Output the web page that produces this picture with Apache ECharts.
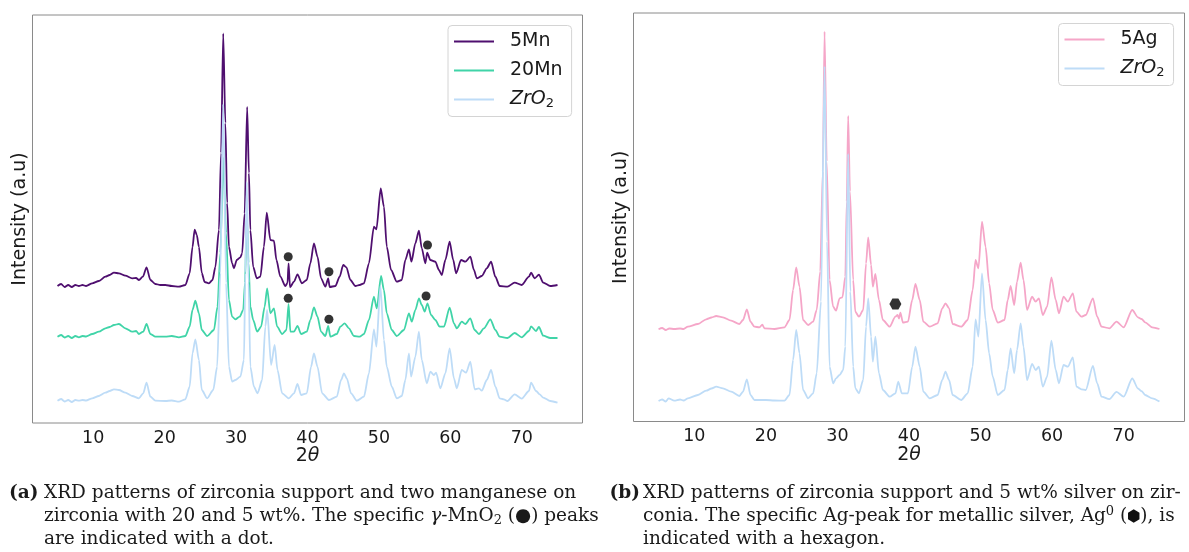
<!DOCTYPE html>
<html><head><meta charset="utf-8">
<script src="https://cdn.jsdelivr.net/npm/echarts@6/dist/echarts.min.js"></script>
<style>html,body{margin:0;padding:0;background:#fff}#c{width:1189px;height:552px}</style>
</head><body><div id="c"></div>
<script>
// ---------- data (2θ in degrees, intensity in arbitrary units) ----------
const xTicks = [10, 20, 30, 40, 50, 60, 70];

const mn5 = [[5.0,137],[5.5,139],[6.0,136],[6.5,138],[7.0,136],[7.5,138],[8.0,137],[8.5,138],[9.0,137],[9.86,139.7],[10.8,142],[11.7,146.3],[12.3,148],[12.9,150.3],[13.6,149.7],[14.5,147.3],[15.46,144.7],[16.0,145],[16.4,143],[16.95,146.3],[17.47,155.7],[18.0,143],[18.7,139],[19.4,138],[20.1,138],[21.0,137],[22.0,136.3],[22.9,138],[23.5,149.7],[23.9,176],[24.2,193.4],[24.5,188],[24.8,176],[25.2,150],[25.6,141],[26.2,139.7],[26.7,143],[27.1,156],[27.6,193],[27.9,270],[28.2,389.5],[28.5,300],[28.75,220],[29.0,176.3],[29.45,159.7],[29.7,154.7],[30.1,163],[30.6,165.7],[30.85,169.7],[31.2,209.7],[31.55,316],[31.8,250],[32.0,193],[32.4,156],[32.9,144.7],[33.4,146.3],[33.9,176.3],[34.3,210.3],[34.8,183],[35.3,182.3],[35.65,163],[36.2,146.3],[36.9,137],[37.2,140],[37.35,159.7],[37.55,135.7],[38.1,141.3],[38.6,148.7],[39.2,139.7],[39.9,143],[40.4,159.7],[40.9,179.7],[41.4,166.3],[41.9,144.7],[42.5,136.3],[42.9,144.7],[43.1,136],[43.9,137],[44.5,146.3],[45.0,158],[45.45,155.7],[46.0,143],[46.7,137],[47.3,138],[47.9,139.7],[48.6,159.7],[49.3,196.3],[49.65,193.7],[50.25,234.5],[50.7,216.3],[51.1,176.3],[51.7,153],[52.5,141.3],[53.2,143],[53.7,163],[54.2,173.7],[54.55,161.3],[55.1,179.7],[55.6,192.3],[56.0,174.7],[56.5,159.7],[56.75,170.3],[57.2,163],[57.9,161.3],[58.4,153],[58.8,148],[59.3,163],[59.9,181.3],[60.4,163],[60.8,149.7],[61.5,163],[62.1,161.3],[62.8,166.3],[63.3,153],[63.7,144.7],[64.4,147],[65.1,154.7],[65.7,161.3],[66.3,146.3],[66.9,137],[68.0,136.4],[69.0,140.4],[70.0,138],[71.0,146.3],[71.3,150.3],[71.8,144.7],[72.4,148.3],[73.0,140.4],[74.0,137],[75.0,138]];

const mn20 = [[5.0,86.3],[5.5,88],[6.0,85.5],[6.5,87],[7.0,85],[7.5,87],[8.0,85.7],[8.5,87],[9.0,86.5],[9.86,89],[10.8,91.3],[11.7,94.7],[12.3,96],[12.9,98],[13.6,99],[14.5,94.7],[15.46,91.3],[16.0,92],[16.4,89],[17.0,91.3],[17.47,99],[18.0,89],[18.7,86.3],[20.1,86.3],[21.0,87],[22.0,85.7],[22.9,87],[23.5,96.3],[23.9,113],[24.3,122.3],[24.8,109.7],[25.2,93],[25.95,87],[26.9,93],[27.4,116.3],[27.8,170],[28.2,265.6],[28.6,190],[29.0,123],[29.45,106.3],[29.9,103.7],[30.5,106.3],[31.0,113],[31.25,140],[31.5,209],[31.75,160],[32.0,116.3],[32.4,103],[32.95,91.3],[33.5,96.3],[34.0,116.3],[34.35,134.7],[34.8,109.7],[35.3,114.7],[35.75,96.3],[36.45,89],[37.05,93],[37.35,119],[37.6,91.3],[38.1,91.3],[38.6,97],[39.1,89],[39.9,91.3],[40.4,103],[40.9,115.7],[41.4,106.3],[41.9,91.3],[42.5,87],[42.9,97],[43.2,86.3],[44.1,89],[44.6,96.3],[45.2,99.7],[45.8,94.7],[46.5,87],[47.3,86.3],[47.9,89],[48.6,103],[49.3,126.3],[49.7,114.7],[50.3,147],[50.7,133],[51.1,109.7],[51.8,93],[52.5,87],[53.5,93],[54.2,109.7],[54.6,101.3],[55.1,113],[55.6,124.7],[56.0,118],[56.4,111.3],[56.8,119.7],[57.3,108],[57.9,103],[58.5,96.3],[59.1,96.3],[59.9,115.3],[60.5,99.7],[60.9,94.7],[61.6,101.3],[62.1,99],[62.8,104.7],[63.4,93],[64.0,89],[64.7,94.7],[65.6,103.7],[66.3,93],[66.9,86.3],[68.0,85],[69.0,90],[70.0,85.7],[71.0,92],[71.3,96.6],[72.0,92],[72.4,96],[73.0,87.3],[74.0,85],[75.0,85]];

const zro2A = [[5.0,22.3],[5.5,24],[6.0,21.5],[6.5,23],[7.0,21],[7.5,23],[8.0,22.3],[8.5,23],[9.0,22.5],[9.86,24.7],[10.8,27],[11.7,30.3],[12.3,32],[12.9,33.7],[13.6,33],[14.5,30.3],[15.46,27],[16.4,24.7],[17.0,29.7],[17.47,40.3],[18.0,26.3],[18.7,22.3],[20.1,22],[21.0,22.5],[22.0,21.3],[22.9,23.7],[23.5,36.3],[23.9,69.7],[24.3,83.7],[24.8,63],[25.2,33],[25.95,24.7],[26.8,33],[27.35,56.3],[27.8,150],[28.2,319],[28.6,140],[29.0,56.3],[29.45,41.3],[29.9,43],[30.6,46.3],[31.1,63],[31.3,150],[31.5,241],[31.75,140],[32.0,56.3],[32.5,36.3],[33.0,29.7],[33.65,43],[34.1,96.3],[34.35,113],[34.9,58],[35.4,78],[35.8,53],[36.45,29.7],[37.4,24.7],[38.1,29.7],[38.6,39],[39.1,28],[39.9,29.7],[40.5,56.3],[40.9,69.7],[41.4,56.3],[42.05,29.7],[43.0,23],[44.1,26.3],[44.7,43],[45.1,49.7],[45.5,44.7],[46.1,29.7],[46.9,22.3],[47.9,26.3],[48.6,49.7],[49.3,93.7],[49.65,76.3],[50.2,137],[50.7,83],[51.1,56.3],[51.8,36.3],[52.5,24.7],[53.2,27],[53.7,43],[54.2,69.7],[54.5,46.3],[55.1,66.3],[55.6,91.3],[56.0,63],[56.7,39.7],[57.2,51.3],[57.7,48],[58.0,50.3],[58.6,34.7],[59.3,49.7],[59.9,74.7],[60.5,44.7],[60.9,34.7],[61.6,53],[62.2,50.3],[62.8,61.3],[63.4,33.7],[64.0,34.7],[64.4,32.3],[65.1,43],[65.7,53],[66.3,36.3],[66.9,24.7],[67.5,23.7],[68.0,22],[69.0,28.7],[70.0,24.4],[71.0,32],[71.3,40.3],[72.0,32],[72.5,28.7],[73.0,25.4],[74.0,22],[75.0,20.4]];

const mnDots = [[37.3,166.3],[43.0,151.3],[56.8,178],[37.3,124.7],[43.0,103.7],[56.6,127]];

const ag5 = [[5.0,92.2],[5.5,93.5],[6.0,91.5],[6.5,93],[7.2,92.5],[8.0,93],[8.5,92.5],[9.1,94.8],[10.5,97.5],[11.66,102.2],[12.4,104],[13.05,105.5],[14.0,104.2],[15.15,100.8],[16.3,97.5],[16.8,101.5],[17.34,112.2],[17.85,99.8],[18.4,94.8],[19.1,94.2],[19.5,96.8],[19.8,93.2],[21.2,92.5],[22.6,94.2],[23.3,101.5],[23.8,131.5],[24.24,154.2],[24.7,134.8],[25.2,101.5],[25.9,96.5],[26.6,99.8],[27.1,111.5],[27.6,150],[27.95,250],[28.2,389.9],[28.5,260],[28.9,141.5],[29.4,114.8],[29.8,110.8],[30.3,123.2],[30.7,124.2],[31.1,144.8],[31.3,220],[31.5,305.6],[31.75,230],[32.2,141.5],[32.5,109.8],[33.0,104.8],[33.6,111.5],[34.0,158.2],[34.3,184.2],[34.7,156.5],[34.95,134.8],[35.3,147.5],[35.8,121.5],[36.35,101.5],[37.3,94.8],[38.1,104.8],[38.4,106.5],[38.6,103],[38.8,108.8],[39.15,98.8],[39.85,99.8],[40.45,121.5],[40.9,137.5],[41.5,121.5],[42.0,99.8],[42.9,94.8],[44.0,98.2],[44.65,113.2],[45.1,118.2],[45.6,113.2],[46.1,97.5],[47.3,94.8],[48.2,101.5],[48.9,131.5],[49.3,161.5],[49.7,153.2],[50.2,199.8],[50.7,174.8],[51.2,138.2],[51.7,111.5],[52.4,98.8],[53.35,101.5],[53.8,121.5],[54.2,135.5],[54.7,116.5],[55.1,139.8],[55.6,158.8],[56.0,141.5],[56.5,111.5],[57.2,124.8],[57.7,119.8],[58.15,123.2],[58.7,106.5],[59.3,114.8],[59.9,144.2],[60.5,121.5],[60.95,108.2],[61.6,124.8],[62.2,119.8],[62.9,128.2],[63.4,109.8],[64.1,104.8],[64.7,106.5],[65.7,123.2],[66.3,104.8],[66.9,94.8],[68.0,93.2],[69.0,99.8],[70.0,94.2],[71.2,111.5],[72.0,104.2],[72.5,102.5],[73.0,99.2],[74.0,94.2],[75.0,92.5]];

const zro2B = [[5.0,20.5],[5.5,22],[6.0,20],[6.4,23.2],[7.2,20.8],[8.0,22],[8.5,21],[9.1,23.2],[10.5,26.5],[11.66,30.8],[12.4,33],[13.05,34.8],[14.0,33.2],[15.15,29.8],[16.3,25.5],[16.8,29.8],[17.34,42.2],[17.85,26.5],[18.4,21.5],[20.0,21.5],[21.2,21],[22.6,20.8],[23.3,26.5],[23.8,61.5],[24.24,91.5],[24.7,68.2],[25.2,31.5],[25.9,23.2],[26.6,28.2],[27.1,48.2],[27.7,120],[28.2,355.2],[28.55,180],[28.9,54.8],[29.4,38.2],[29.8,43.2],[30.3,46.5],[30.8,51.5],[31.1,74.8],[31.5,267.6],[31.8,130],[32.2,54.8],[32.5,33.2],[33.0,28.2],[33.6,41.5],[34.0,94.8],[34.3,123.2],[34.7,84.8],[34.95,59.8],[35.3,84.8],[35.8,48.2],[36.35,31.5],[37.3,24.8],[38.1,28.2],[38.5,39.8],[39.0,28.2],[39.85,28.2],[40.45,54.8],[40.9,74.8],[41.5,54.8],[42.0,29.8],[42.9,23.2],[44.0,26.5],[44.65,41.5],[45.1,49.8],[45.6,41.5],[46.1,26.5],[47.3,21.5],[48.2,28.2],[48.9,54.8],[49.3,102.2],[49.7,84.8],[50.2,148.2],[50.7,101.5],[51.2,68.2],[51.7,44.8],[52.4,26.5],[53.35,31.5],[53.8,51.5],[54.2,73.2],[54.7,48.2],[55.1,71.5],[55.6,98.2],[56.0,74.8],[56.5,41.5],[57.2,57.5],[57.7,51.5],[58.15,54.8],[58.7,34.8],[59.3,44.8],[59.9,80.8],[60.5,51.5],[60.95,38.2],[61.6,56.5],[62.2,54.8],[62.9,64.2],[63.4,34.8],[64.1,32.2],[64.7,31.5],[65.7,55.5],[66.3,38.2],[66.9,24.8],[68.0,22.3],[69.0,29.7],[70.0,24.8],[71.2,43],[72.0,33],[72.5,30.4],[73.0,26.5],[74.0,23.2],[75.0,19.9]];

const agDots = [[38.1,117.5]];

// ---------- styling ----------
const C_MN5 = '#4f0f6f', C_MN20 = '#40d4a8', C_ZRO2 = '#bedcf7', C_AG5 = '#f5a6c8';
const TXT = '#1a1a1a';
const SANS = 'DejaVu Sans';
const SERIF = 'DejaVu Serif';

const chart = echarts.init(document.getElementById('c'), null, {renderer: 'canvas'});

function lineSeries(name, data, color, gi) {
  return {type: 'line', name, data, xAxisIndex: gi, yAxisIndex: gi, showSymbol: false, symbol: 'none',
    smooth: 0.25, smoothMonotone: 'x',
    lineStyle: {color, width: 1.8}, itemStyle: {color}, animation: false, z: 2, silent: true};
}
function xAx(gi) {
  return {gridIndex: gi, type: 'value', min: 1.5, max: 78.5,
    axisLine: {show: false}, axisTick: {show: false}, splitLine: {show: false},
    axisLabel: {customValues: xTicks, fontSize: 17.5, fontFamily: SANS, color: TXT, margin: 6},
    name: '2{i|θ}', nameLocation: 'middle', nameGap: 24, nameMoveOverlap: false,
    nameTextStyle: {fontSize: 19, fontFamily: SANS, color: TXT,
      rich: {i: {fontStyle: 'italic', fontSize: 19, fontFamily: SANS, color: TXT}}}};
}
function yAx(gi, max) {
  return {gridIndex: gi, type: 'value', min: 0, max,
    axisLine: {show: false}, axisTick: {show: false}, axisLabel: {show: false}, splitLine: {show: false},
    name: 'Intensity (a.u)', nameLocation: 'middle', nameGap: 3, nameMoveOverlap: false,
    nameTextStyle: {fontSize: 19, fontFamily: SANS, color: TXT}};
}
function legendOf(names, left, top) {
  return {data: names, orient: 'vertical', left, top, padding: [5, 9, 6, 6], itemGap: 7,
    itemWidth: 40, itemHeight: 2, icon: 'rect', selectedMode: false,
    borderColor: '#d4d4d4', borderWidth: 1, borderRadius: 4, backgroundColor: 'rgba(255,255,255,0.85)',
    formatter: n => n === 'ZrO2' ? '{i|ZrO}{s|2}' : n,
    textStyle: {fontSize: 19, fontFamily: SANS, color: TXT, lineHeight: 22, padding: [0, 0, 0, 11],
      rich: {i: {fontStyle: 'italic', fontSize: 19, fontFamily: SANS, color: TXT, lineHeight: 22},
             s: {fontSize: 13, fontFamily: SANS, color: TXT, lineHeight: 12, verticalAlign: 'bottom'}}}};
}

const hexSvg = 'data:image/svg+xml;charset=utf-8,' + encodeURIComponent(
  '<svg xmlns="http://www.w3.org/2000/svg" width="13" height="14" viewBox="-10 -11 20 22">' +
  '<polygon points="0,-10.5 9,-5.25 9,5.25 0,10.5 -9,5.25 -9,-5.25" fill="#111"/></svg>');

const capRich = {
  b: {fontFamily: SERIF, fontWeight: 'bold', fontSize: 18.5, fill: TXT, color: TXT, lineHeight: 22},
  g: {fontFamily: SERIF, fontStyle: 'italic', fontSize: 18.5, fill: TXT, color: TXT, lineHeight: 22},
  s: {fontFamily: SERIF, fontSize: 13, fill: TXT, color: TXT, lineHeight: 12, verticalAlign: 'bottom'},
  p: {fontFamily: SERIF, fontSize: 13, fill: TXT, color: TXT, lineHeight: 12, verticalAlign: 'top'},
  h: {width: 13, height: 14, backgroundColor: {image: hexSvg}, lineHeight: 22}
};
function cap(text, x, y) {
  return {type: 'text', x, y, silent: true,
    style: {text, fontFamily: SERIF, fontSize: 18.5, fill: TXT, lineHeight: 22, verticalAlign: 'middle', rich: capRich}};
}

const option = {
  backgroundColor: '#fff',
  animation: false,
  grid: [
    {left: 32.5, top: 15, width: 550, height: 408, show: true, borderColor: '#8a8a8a', borderWidth: 1, outerBoundsMode: 'none'},
    {left: 633.5, top: 13, width: 551, height: 408.5, show: true, borderColor: '#8a8a8a', borderWidth: 1, outerBoundsMode: 'none'}
  ],
  xAxis: [xAx(0), xAx(1)],
  yAxis: [yAx(0, 408), yAx(1, 408.5)],
  legend: [legendOf(['5Mn', '20Mn', 'ZrO2'], 448, 25.5), legendOf(['5Ag', 'ZrO2'], 1058.5, 23.5)],
  series: [
    lineSeries('5Mn', mn5, C_MN5, 0),
    lineSeries('20Mn', mn20, C_MN20, 0),
    lineSeries('ZrO2', zro2A, C_ZRO2, 0),
    {type: 'scatter', name: 'MnO2 peaks', data: mnDots, xAxisIndex: 0, yAxisIndex: 0, symbol: 'circle', symbolSize: 9,
      itemStyle: {color: '#000'}, z: 5, silent: true, animation: false},
    lineSeries('5Ag', ag5, C_AG5, 1),
    lineSeries('ZrO2', zro2B, C_ZRO2, 1),
    {type: 'scatter', name: 'Ag0 peak', data: agDots, xAxisIndex: 1, yAxisIndex: 1,
      symbol: 'path://M-10,0L-5,-8.66L5,-8.66L10,0L5,8.66L-5,8.66Z', symbolSize: [12, 11],
      itemStyle: {color: '#000'}, z: 5, silent: true, animation: false}
  ],
  graphic: [
    cap('{b|(a)}', 9, 493),
    cap('XRD patterns of zirconia support and two manganese on', 44, 493),
    cap('zirconia with 20 and 5 wt%. The specific {g|γ}-MnO{s|2} (●) peaks', 44, 516),
    cap('are indicated with a dot.', 44, 539),
    cap('{b|(b)}', 609.5, 493),
    cap('XRD patterns of zirconia support and 5 wt% silver on zir-', 643, 493),
    cap('conia. The specific Ag-peak for metallic silver, Ag{p|0} ({h| }), is', 643, 516),
    cap('indicated with a hexagon.', 643, 539)
  ]
};
chart.setOption(option);
</script>
</body></html>
